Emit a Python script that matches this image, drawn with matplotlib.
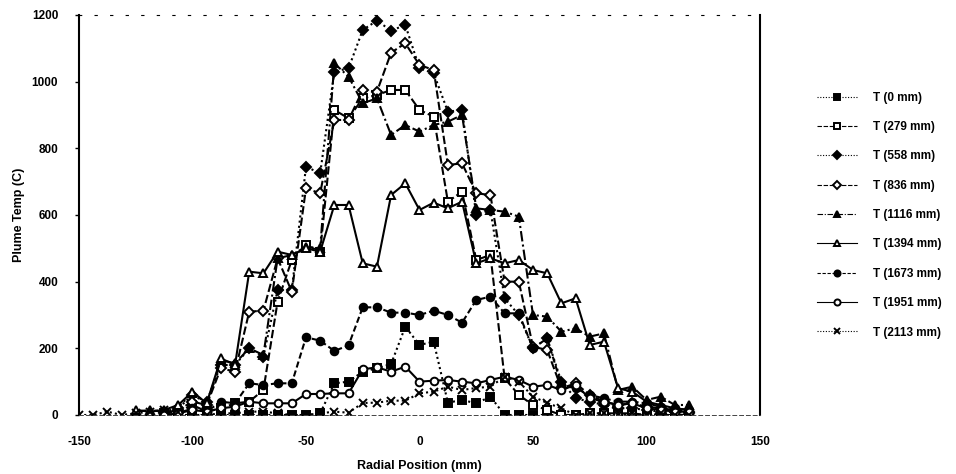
import matplotlib
matplotlib.use("Agg")
import matplotlib.pyplot as plt
import numpy as np

plt.rcParams['font.family'] = ['Liberation Sans', 'DejaVu Sans']
plt.rcParams['font.weight'] = 'bold'
plt.rcParams['axes.unicode_minus'] = False

# radial measurement stations (mm)
radial_mm = [-150, -143.75, -137.5, -131.25, -125, -118.75, -112.5, -106.25,
             -100, -93.75, -87.5, -81.25, -75, -68.75, -62.5, -56.25,
             -50, -43.75, -37.5, -31.25, -25, -18.75, -12.5, -6.25,
             0, 6.25, 12.5, 18.75, 25, 31.25, 37.5, 43.75,
             50, 56.25, 62.5, 68.75, 75, 81.25, 87.5, 93.75,
             100, 106.25, 112.5, 118.75]

N = None
# plume temperature (C) at each axial height
t_0mm = [N, N, N, N, N, N, 0, 0, 0, 0, 0, 0, 0, 0, 0, 0,
         0, 5, 95, 100, 130, 140, 153, 265, 210, 220, 37, 45, 35, 55, 0, 0,
         0, 0, 0, 0, 0, 0, 0, 0, 0, 0, 0, 0]
t_279mm = [N, N, N, N, N, N, 5, 10, 30, 10, 20, 35, 40, 75, 340, 465,
           510, 490, 915, 890, 950, 960, 975, 975, 915, 895, 640, 670, 465, 480, 110, 60,
           30, 15, 0, 0, 5, 5, 5, 5, 0, 0, 0, 0]
t_558mm = [N, N, N, N, N, N, 10, 20, 60, 40, 150, 150, 200, 175, 375, 375,
           745, 725, 1030, 1040, 1155, 1183, 1153, 1170, 1040, 1025, 910, 915, 600, 615, 350, 300,
           200, 230, 100, 50, 40, 30, 20, 20, 15, 10, 10, 5]
t_836mm = [N, N, N, N, N, N, 5, 15, 40, 30, 140, 130, 310, 313, 470, 370,
           680, 665, 885, 885, 975, 970, 1087, 1115, 1050, 1035, 750, 755, 665, 660, 400, 400,
           205, 195, 80, 95, 60, 40, 30, 35, 25, 20, 15, 10]
t_1116mm = [N, N, N, N, 10, 15, 10, 25, 65, 30, 165, 155, 200, 180, 470, 480,
            505, 500, 1055, 1015, 935, 950, 840, 870, 850, 870, 880, 900, 620, 615, 610, 595,
            300, 295, 250, 260, 235, 245, 75, 85, 45, 55, 30, 30]
t_1394mm = [N, N, N, N, 15, 10, 15, 30, 70, 35, 170, 150, 430, 425, 490, 480,
            500, 490, 630, 630, 455, 445, 660, 695, 615, 637, 620, 640, 455, 470, 455, 465,
            435, 425, 335, 350, 210, 220, 80, 70, 40, 30, 20, 15]
t_1673mm = [N, N, N, N, N, N, 0, 5, 20, 10, 40, 35, 95, 90, 95, 95,
            233, 223, 192, 209, 323, 323, 307, 307, 300, 313, 300, 277, 345, 355, 305, 305,
            200, 230, 90, 80, 60, 50, 40, 40, 35, 25, 20, 15]
t_1951mm = [N, N, N, N, N, N, 0, 5, 15, 10, 20, 25, 40, 35, 35, 35,
            63, 63, 65, 65, 137, 143, 130, 145, 100, 103, 105, 100, 95, 105, 115, 105,
            85, 90, 75, 90, 50, 40, 30, 35, 20, 15, 10, 10]
t_2113mm = [0, 0, 10, 0, 5, 10, 15, 10, 0, 0, 5, 5, 10, 10, 5, 0,
            0, 5, 10, 7, 36, 37, 43, 43, 65, 70, 85, 75, 81, 85, 115, 100,
            55, 36, 20, 0, 5, 5, 0, 5, 0, 5, 0, 0]

labels = ['T (0 mm)', 'T (279 mm)', 'T (558 mm)', 'T (836 mm)', 'T (1116 mm)',
          'T (1394 mm)', 'T (1673 mm)', 'T (1951 mm)', 'T (2113 mm)']
series = [t_0mm, t_279mm, t_558mm, t_836mm, t_1116mm,
          t_1394mm, t_1673mm, t_1951mm, t_2113mm]

# marker / line style per series
styles = [
    dict(marker='s', mfc='black', ls=(0, (1, 1.5))),
    dict(marker='s', mfc='white', ls=(0, (4, 1.5))),
    dict(marker='D', mfc='black', ls=(0, (1, 1.5))),
    dict(marker='D', mfc='white', ls=(0, (4, 1.5))),
    dict(marker='^', mfc='black', ls=(0, (5, 1.5, 1, 1.5))),
    dict(marker='^', mfc='white', ls='-'),
    dict(marker='o', mfc='black', ls=(0, (3, 1.5))),
    dict(marker='o', mfc='white', ls='-'),
    dict(marker='x', mfc='black', ls=(0, (1, 1.5))),
]

fig = plt.figure(figsize=(9.56, 4.74), dpi=100)
ax = fig.add_axes([0.0826, 0.1245, 0.7124, 0.8439])

x = np.array(radial_mm, dtype=float)
for vals, lab, st in zip(series, labels, styles):
    y = np.array([np.nan if v is None else v for v in vals], dtype=float)
    ms = 5.5 if st['marker'] != 'x' else 6
    ax.plot(x, y, color='black', lw=1.5, ls=st['ls'], marker=st['marker'],
            mfc=st['mfc'], mec='black', mew=1.4, ms=ms, label=lab)

ax.set_xlim(-150, 150)
ax.set_ylim(0, 1200)
ax.set_xticks([-150, -100, -50, 0, 50, 100, 150])
ax.set_yticks([0, 200, 400, 600, 800, 1000, 1200])
ax.tick_params(axis='both', labelsize=8.5, length=3, width=1, color='black')
ax.tick_params(axis='x', pad=15, length=0)
ax.tick_params(axis='y', pad=12)
for lab in ax.get_xticklabels() + ax.get_yticklabels():
    lab.set_fontweight('bold')

ax.spines['left'].set_linewidth(1.5)
ax.spines['right'].set_linewidth(1.5)
ax.spines['top'].set_linestyle((0, (2, 12)))
ax.spines['top'].set_linewidth(0.8)
ax.spines['bottom'].set_linestyle((0, (4, 3)))
ax.spines['bottom'].set_linewidth(0.7)
ax.spines['bottom'].set_color('#444444')

ax.set_xlabel('Radial Position (mm)', fontsize=9, fontweight='bold', labelpad=9)
ax.set_ylabel('Plume Temp (C)', fontsize=9, fontweight='bold', labelpad=5)

leg = fig.legend(loc='upper left', bbox_to_anchor=(0.843, 0.829), frameon=False,
                 handlelength=3.4, labelspacing=1.47, handletextpad=1.4,
                 markerscale=0.8, prop={'weight': 'bold', 'size': 8.5})
for h in leg.legend_handles:
    h.set_linewidth(0.8)

fig.savefig('out.png', dpi=100)
